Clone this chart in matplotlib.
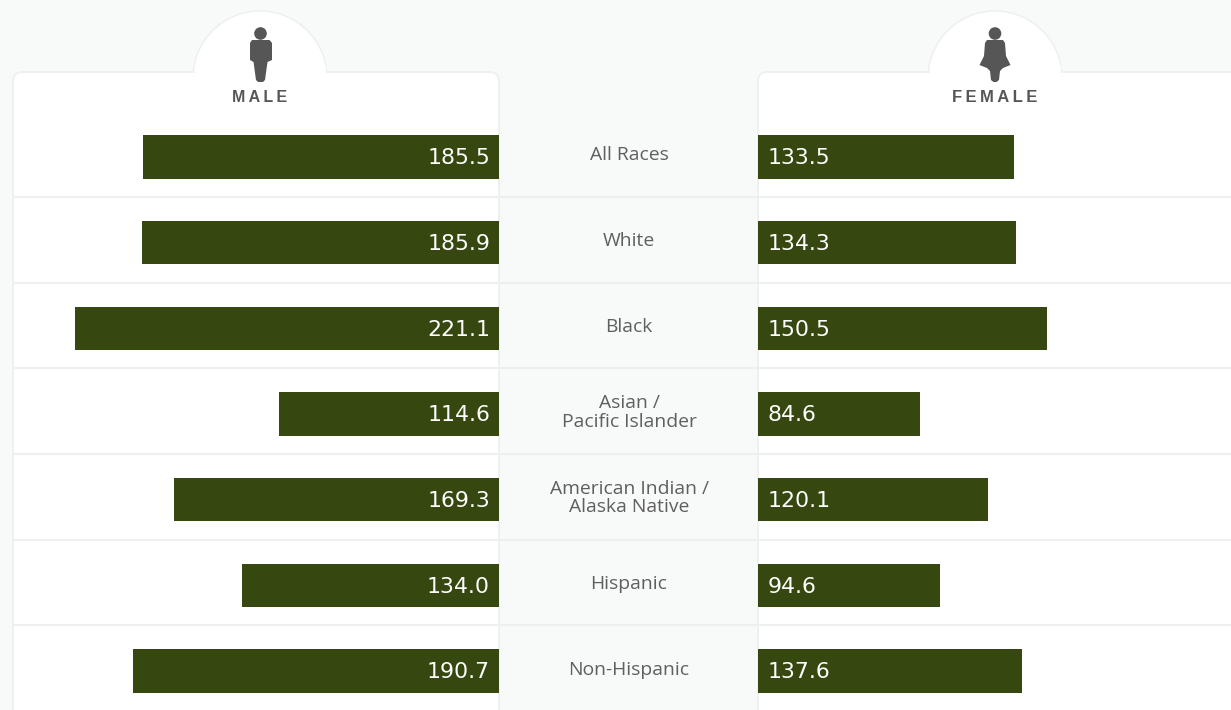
import matplotlib
matplotlib.use('Agg')
import matplotlib.pyplot as plt
from matplotlib.patches import Circle, FancyBboxPatch, Polygon, Rectangle

# Datos de la tabla
categorias = ['All Races', 'White', 'Black', 'Asian /\nPacific Islander',
              'American Indian /\nAlaska Native', 'Hispanic', 'Non-Hispanic']
hombres = [185.5, 185.9, 221.1, 114.6, 169.3, 134.0, 190.7]
mujeres = [133.5, 134.3, 150.5, 84.6, 120.1, 94.6, 137.6]
titulo_h = 'M\u2009A\u2009L\u2009E'
titulo_m = 'F\u2009E\u2009M\u2009A\u2009L\u2009E'

ANCHO, ALTO = 1231, 710
FONDO = '#f8f9f9'
BORDE = '#eef0f0'
VERDE = '#36480f'
GRIS = '#565656'
PX_POR_UNIDAD = 1.919
FILA_Y0 = 157      # centro de la primera fila (px)
FILA_ALTO = 85.67
EJE_TOP = 72

fig = plt.figure(figsize=(ANCHO / 100, ALTO / 100), dpi=100, facecolor=FONDO)

# Capa de fondo en pixeles para paneles, separadores e iconos
fondo = fig.add_axes([0, 0, 1, 1])
fondo.set_xlim(0, ANCHO)
fondo.set_ylim(ALTO, 0)
fondo.axis('off')


def panel(x0, x1, cx):
    fondo.add_patch(Circle((cx, 78), 67, fc='white', ec=BORDE, lw=1.1, zorder=1))
    fondo.add_patch(FancyBboxPatch((x0, EJE_TOP), x1 - x0, 800, fc='white', ec=BORDE, lw=1.3,
                                   boxstyle='round,pad=0,rounding_size=9', zorder=2))
    fondo.add_patch(Rectangle((cx - 65.5, 66), 131, 12, fc='white', ec='none', zorder=3))


panel(13, 499, 260)
panel(758, 1300, 995)

# Los separadores quedan 40 px bajo el centro de cada fila
for i in range(len(categorias) - 1):
    fondo.plot([13, ANCHO], [FILA_Y0 + i * FILA_ALTO + 40] * 2, color=BORDE, lw=1.5, zorder=4)

# Icono hombre
fondo.add_patch(Circle((260.5, 33.5), 6.3, fc=GRIS, ec='none', zorder=5))
fondo.add_patch(Polygon([(252, 40), (269.5, 40), (272, 43), (272, 60), (267.5, 62), (265, 80),
                         (263, 82), (258, 82), (256, 80), (253.5, 62), (250, 60), (250, 43)],
                        closed=True, fc=GRIS, ec='none', zorder=5))
# Icono mujer
fondo.add_patch(Circle((995, 33.5), 6.3, fc=GRIS, ec='none', zorder=5))
fondo.add_patch(Polygon([(987, 40), (1003, 40), (1005, 43), (1006, 56), (1010.5, 65), (1003, 68),
                         (1000, 71), (999, 80), (996.5, 82), (993.5, 82), (991, 80), (990, 71), (987, 68),
                         (979.5, 65), (984, 56), (985, 43)],
                        closed=True, fc=GRIS, ec='none', zorder=5))

titulo_fuente = ['Liberation Sans', 'DejaVu Sans']
fondo.text(260, 97, titulo_h, ha='center', va='center', family=titulo_fuente, fontweight='bold',
           fontsize=11.5, color=GRIS, zorder=5)
fondo.text(995, 97, titulo_m, ha='center', va='center', family=titulo_fuente, fontweight='bold',
           fontsize=12, color=GRIS, zorder=5)

# Categorias en la columna central
for i, cat in enumerate(categorias):
    fondo.text(629, FILA_Y0 + i * FILA_ALTO - 1.5, cat, ha='center', va='center', family='Open Sans',
               fontsize=13.9, color='#5f5f5f', linespacing=1.03, zorder=5)


def eje_barras(x0, x1):
    ax = fig.add_axes([x0 / ANCHO, 0, (x1 - x0) / ANCHO, (ALTO - EJE_TOP) / ALTO])
    ax.patch.set_alpha(0)
    ax.set_ylim((ALTO - FILA_Y0) / FILA_ALTO, (EJE_TOP - FILA_Y0) / FILA_ALTO)
    ax.axis('off')
    return ax


# Hombres: barras hacia la izquierda desde x=499
ax_h = eje_barras(13, 499)
ax_h.set_xlim(486 / PX_POR_UNIDAD, 0)
filas = range(len(categorias))
ax_h.barh(filas, hombres, height=0.505, color=VERDE)
for i, v in enumerate(hombres):
    ax_h.annotate(f'{v:.1f}', (0, i), xytext=(-6.5, -1), textcoords='offset points', ha='right',
                  va='center', family='DejaVu Sans', fontsize=15.8, color='white')

# Mujeres: barras hacia la derecha desde x=758
ax_m = eje_barras(758, ANCHO)
ax_m.set_xlim(0, (ANCHO - 758) / PX_POR_UNIDAD)
ax_m.barh(filas, mujeres, height=0.505, color=VERDE)
for i, v in enumerate(mujeres):
    ax_m.annotate(f'{v:.1f}', (0, i), xytext=(7, -1), textcoords='offset points', ha='left',
                  va='center', family='DejaVu Sans', fontsize=15.8, color='white')

fig.savefig('out.png', dpi=100, facecolor=FONDO)
